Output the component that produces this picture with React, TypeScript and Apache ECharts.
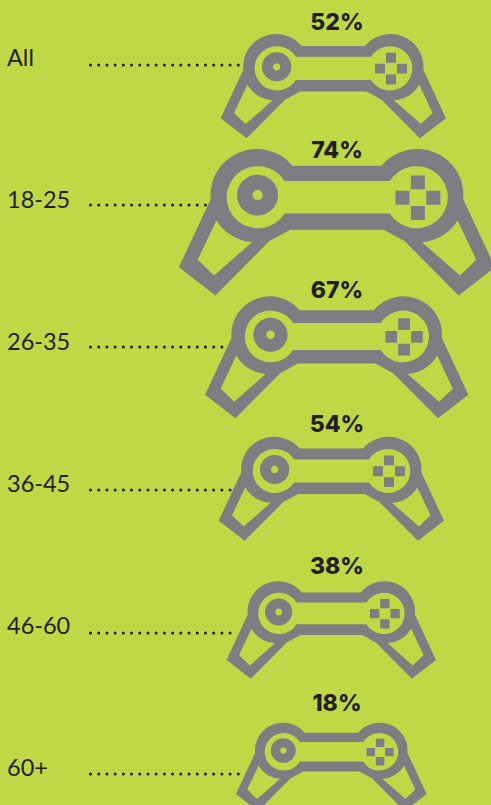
import React, { useEffect, useRef } from "react";
import * as echarts from "echarts";

const ageGroups = ["All", "18-25", "26-35", "36-45", "46-60", "60+"];
const shares = [52, 74, 67, 54, 38, 18];

// Page-pixel layout of each row's pictogram, kept apart from the data
const iconCenterX = [333.3, 337, 336.7, 331.3, 331.3, 331.3];
const iconTop = [34, 149, 296.3, 436.7, 581.3, 722.7];
const iconWidth = [225.3, 316, 263.3, 225.3, 209.3, 190.7];
const iconHeight = [104.3, 146.5, 122, 104, 97.4, 88.4];
const shareLabelY = [22, 150.3, 290, 424, 565.7, 702.7];
const dotY = [65, 205, 347, 490, 633, 774];
const dotEndX = [241.5, 208, 228, 234, 233, 241];

const BG = "#bfd846";
const GREY = "#7d7e82";
const INK = "#231f20";
const DOT_START_X = 90.5;

const square = (x: number, y: number, s: number) =>
  `M${x} ${y}L${x + s} ${y}L${x + s} ${y + s}L${x} ${y + s}Z`;

const disc = (cx: number, cy: number, r: number, sweep: number) =>
  `M${cx - r} ${cy}A${r} ${r} 0 1 ${sweep} ${cx + r} ${cy}A${r} ${r} 0 1 ${sweep} ${cx - r} ${cy}Z`;

const GAMEPAD_PATH = [
  // outer silhouette, clockwise
  "M305 135L495 135A99 99 0 0 1 670 207L738 354L660 415L545 298L500 273L300 273L255 298L140 415L62 354L130 207A99 99 0 0 1 305 135Z",
  // body cavity, counter-clockwise
  "M288 168A67 67 0 1 0 288 238L513 238A67 67 0 1 0 513 168Z",
  // stick
  disc(230, 198.5, 44, 1),
  disc(230, 198.5, 11, 0),
  // d-pad
  square(558, 156, 30),
  square(525, 189, 30),
  square(591, 189, 30),
  square(558, 222, 30),
  // grip cavities, counter-clockwise
  "M142 253L102 338L137 372L218 300A99 99 0 0 1 142 253Z",
  "M658 253A99 99 0 0 1 582 300L663 372L698 338Z",
].join("");

export default function App() {
  const ref = useRef<HTMLDivElement>(null);

  useEffect(() => {
    document.body.style.margin = "0";
    const chart = echarts.init(ref.current!, undefined, { renderer: "svg" });
    chart.setOption({
      animation: false,
      backgroundColor: BG,
      grid: { left: 88, top: 57, width: 403, height: 710 },
      xAxis: { type: "value", min: 0, max: 403, show: false },
      yAxis: {
        type: "category",
        inverse: true,
        boundaryGap: false,
        data: ageGroups,
        axisLine: { show: false },
        axisTick: { show: false },
        splitLine: { show: false },
        axisLabel: {
          align: "left",
          margin: 81,
          color: INK,
          fontFamily: "Lato",
          fontSize: 23.5,
        },
      },
      series: [
        {
          type: "custom",
          clip: false,
          data: shares.map((s, i) => [0, i, s]),
          encode: { x: 0, y: 1 },
          renderItem: (params: any, api: any) => {
            const i = params.dataIndex;
            const gridLeft = api.coord([0, i])[0];
            const w = iconWidth[i];
            return {
              type: "group",
              children: [
                {
                  type: "line",
                  shape: {
                    x1: DOT_START_X,
                    y1: dotY[i],
                    x2: gridLeft + dotEndX[i] - 88,
                    y2: dotY[i],
                  },
                  style: {
                    stroke: INK,
                    lineWidth: 3,
                    lineCap: "round",
                    lineDash: [0.01, 8.2],
                  },
                },
                {
                  type: "path",
                  shape: {
                    pathData: GAMEPAD_PATH,
                    x: iconCenterX[i] - w / 2,
                    y: iconTop[i],
                    width: w,
                    height: iconHeight[i],
                    layout: "cover",
                  },
                  style: { fill: GREY },
                },
                {
                  type: "text",
                  x: 337,
                  y: shareLabelY[i],
                  style: {
                    text: `${api.value(2)}%`,
                    fill: INK,
                    fontFamily: "Inter",
                    fontWeight: 800,
                    fontSize: 23,
                    align: "center",
                    verticalAlign: "middle",
                  },
                },
              ],
            };
          },
        },
      ],
    });
    return () => chart.dispose();
  }, []);

  return <div ref={ref} style={{ width: 491, height: 805 }} />;
}
